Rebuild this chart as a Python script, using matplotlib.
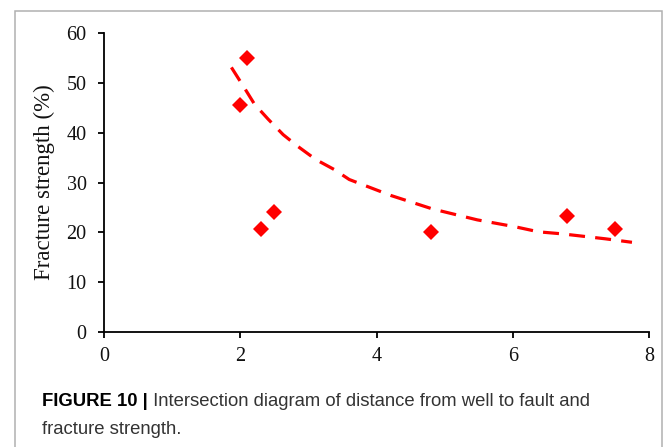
import matplotlib
matplotlib.use("Agg")
import matplotlib.pyplot as plt
from matplotlib.patches import Rectangle

# Data
distance = [2.0, 2.1, 2.3, 2.5, 4.8, 6.8, 7.5]
strength = [45.5, 55.0, 20.7, 24.0, 20.0, 23.3, 20.7]

trend_x = [1.87, 2.06, 2.21, 2.41, 2.63, 2.84, 3.11, 3.38, 3.60, 4.21,
           4.82, 5.48, 6.04, 6.38, 6.72, 7.36, 7.75]
trend_y = [53.1, 49.0, 45.7, 42.7, 39.6, 37.3, 34.6, 32.6, 30.6, 27.4,
           24.7, 22.5, 21.1, 20.1, 19.7, 18.7, 18.0]

x_ticks = [0, 2, 4, 6, 8]
y_ticks = [0, 10, 20, 30, 40, 50, 60]
y_label = "Fracture strength (%)"
caption_bold = "FIGURE 10 |"
caption_rest = " Intersection diagram of distance from well to fault and"
caption_line2 = "fracture strength."

W, H = 665, 447
fig = plt.figure(figsize=(W / 100, H / 100), dpi=100)
fig.patch.set_facecolor("white")

# outer frame
fig.add_artist(Rectangle((15 / W, -0.05), (662 - 15) / W, 1.05 - 11 / H,
                         transform=fig.transFigure, fill=False,
                         edgecolor="#b0b0b0", linewidth=1.1))

ax = fig.add_axes([104 / W, (H - 332) / H, (649 - 104) / W, (332 - 33) / H])
ax.set_xlim(0, 8)
ax.set_ylim(0, 60)
ax.set_xticks(x_ticks)
ax.set_yticks(y_ticks)
for s in ["top", "right"]:
    ax.spines[s].set_visible(False)
for s in ["left", "bottom"]:
    ax.spines[s].set_linewidth(1.3)
    ax.spines[s].set_color("black")
ax.tick_params(direction="out", length=4.5, width=1.3, labelsize=14.5)
ax.tick_params(axis="y", pad=8)
ax.tick_params(axis="x", pad=6)
for lab in ax.get_xticklabels() + ax.get_yticklabels():
    lab.set_fontfamily("Liberation Serif")
    lab.set_color("#111111")

ax.plot(trend_x, trend_y, color="#ff0000", linewidth=2.3,
        linestyle=(0, (5.0, 3.2)), dash_capstyle="butt")
ax.plot(distance, strength, linestyle="none", marker="D", markersize=8.5,
        color="#ff0000", markeredgewidth=0, clip_on=False)

ax.set_ylabel(y_label, fontfamily="Liberation Serif", fontsize=16.5, labelpad=8,
              color="#111111")

# caption
cap_size = 13.3
t = fig.text(42 / W, 1 - 402 / H, caption_bold, fontfamily="Liberation Sans",
             fontweight="bold", fontsize=cap_size, va="center", ha="left")
fig.canvas.draw()
bb = t.get_window_extent()
fig.text(bb.x1 / W, 1 - 402 / H, caption_rest, fontfamily="Liberation Sans",
         fontsize=cap_size, va="center", ha="left", color="#333333")
fig.text(42 / W, 1 - 430 / H, caption_line2, fontfamily="Liberation Sans",
         fontsize=cap_size, va="center", ha="left", color="#333333")

fig.savefig("out.png", dpi=100)
